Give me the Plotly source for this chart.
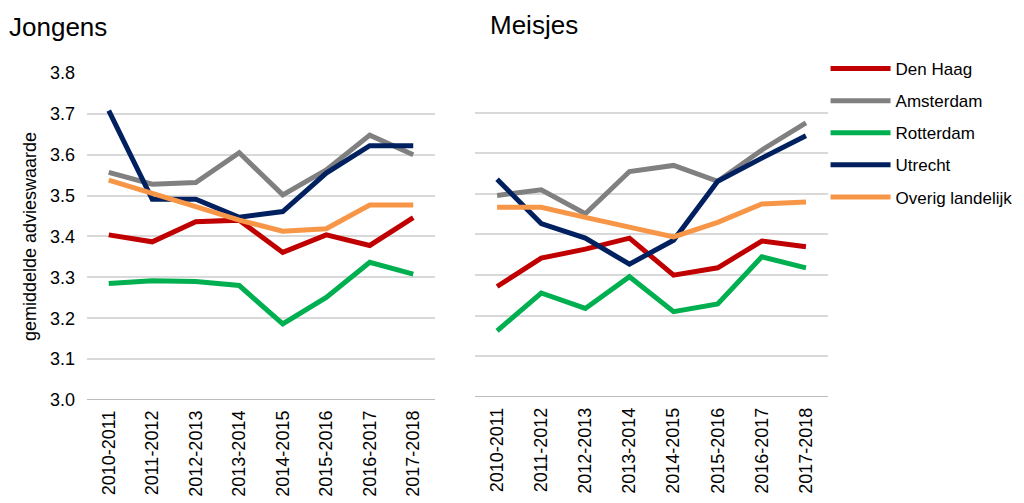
import plotly.graph_objects as go

# schooljaren
jaren = ['2010-2011', '2011-2012', '2012-2013', '2013-2014',
         '2014-2015', '2015-2016', '2016-2017', '2017-2018']

steden = ['Den Haag', 'Amsterdam', 'Rotterdam', 'Utrecht', 'Overig landelijk']
kleuren = ['#C00000', '#808080', '#00B050', '#002060', '#F79646']

# gemiddelde advieswaarde jongens
jongens_den_haag = [3.404, 3.387, 3.436, 3.440, 3.361, 3.404, 3.378, 3.446]
jongens_amsterdam = [3.557, 3.528, 3.532, 3.605, 3.502, 3.563, 3.648, 3.600]
jongens_rotterdam = [3.285, 3.292, 3.290, 3.280, 3.186, 3.251, 3.337, 3.308]
jongens_utrecht = [3.708, 3.491, 3.491, 3.447, 3.461, 3.555, 3.622, 3.622]
jongens_overig = [3.538, 3.507, 3.473, 3.440, 3.413, 3.419, 3.477, 3.477]

# gemiddelde advieswaarde meisjes
meisjes_den_haag = [3.272, 3.342, 3.364, 3.391, 3.300, 3.318, 3.384, 3.370]
meisjes_amsterdam = [3.496, 3.510, 3.451, 3.555, 3.570, 3.531, 3.608, 3.675]
meisjes_rotterdam = [3.163, 3.256, 3.218, 3.296, 3.210, 3.229, 3.345, 3.318]
meisjes_utrecht = [3.536, 3.427, 3.391, 3.327, 3.386, 3.531, 3.588, 3.643]
meisjes_overig = [3.467, 3.467, 3.442, 3.419, 3.394, 3.430, 3.475, 3.480]

y_ticks = [3.0, 3.1, 3.2, 3.3, 3.4, 3.5, 3.6, 3.7, 3.8]

FONT = 'Liberation Sans, Arial, sans-serif'

jongens = [jongens_den_haag, jongens_amsterdam, jongens_rotterdam, jongens_utrecht, jongens_overig]
meisjes = [meisjes_den_haag, meisjes_amsterdam, meisjes_rotterdam, meisjes_utrecht, meisjes_overig]

fig = go.Figure()

for naam, kleur, waarden in zip(steden, kleuren, jongens):
    fig.add_trace(go.Scatter(x=jaren, y=waarden, mode='lines', name=naam,
                             line=dict(color=kleur, width=5),
                             xaxis='x', yaxis='y', showlegend=False))

# alleen de meisjes-lijnen in de legenda
for naam, kleur, waarden in zip(steden, kleuren, meisjes):
    fig.add_trace(go.Scatter(x=jaren, y=waarden, mode='lines', name=naam,
                             line=dict(color=kleur, width=5),
                             xaxis='x2', yaxis='y2', legendgroup=naam))

x_common = dict(type='category', range=[-0.5, 7.5], tickangle=-90, showgrid=False,
                ticks='', showline=False, zeroline=False, automargin=False,
                ticklabelstandoff=6,
                tickfont=dict(family=FONT, size=18, color='#000000'))
y_common = dict(range=[3.0, 3.8], tickvals=y_ticks, showgrid=True,
                gridcolor='#D9D9D9', gridwidth=1.5, zeroline=False,
                showline=False, ticks='', automargin=False)

fig.update_layout(
    width=1024, height=503,
    margin=dict(l=0, r=0, t=0, b=0),
    paper_bgcolor='white', plot_bgcolor='white',
    font=dict(family=FONT, color='#000000'),
    xaxis=dict(domain=[0.08496, 0.4248], anchor='y', **x_common),
    xaxis2=dict(domain=[0.4639, 0.8086], anchor='y2', **x_common),
    yaxis=dict(domain=[0.2048, 0.8549], anchor='x', tickformat='.1f',
               ticklabelstandoff=11,
               tickfont=dict(family=FONT, size=18, color='#000000'),
               title=dict(text='gemiddelde advieswaarde', standoff=8,
                          font=dict(family=FONT, size=18, color='#000000')),
               **y_common),
    yaxis2=dict(domain=[0.2107, 0.8569], anchor='x2', showticklabels=False, **y_common),
    legend=dict(x=0.8062, y=0.8986, xanchor='left', yanchor='top',
                font=dict(family=FONT, size=17, color='#000000'),
                itemwidth=60, tracegroupgap=7, bgcolor='rgba(0,0,0,0)'),
    shapes=[
        dict(type='line', xref='x domain', yref='y', x0=0, x1=1, y0=3.0, y1=3.0,
             line=dict(color='#A6A6A6', width=1.5)),
        dict(type='line', xref='x2 domain', yref='y2', x0=0, x1=1, y0=3.0, y1=3.0,
             line=dict(color='#A6A6A6', width=1.5)),
    ],
    annotations=[
        dict(text='Jongens', xref='paper', yref='paper', x=7 / 1024, y=1 - 27 / 503,
             xanchor='left', yanchor='middle', showarrow=False,
             font=dict(family=FONT, size=26, color='#000000')),
        dict(text='Meisjes', xref='paper', yref='paper', x=488 / 1024, y=1 - 25 / 503,
             xanchor='left', yanchor='middle', showarrow=False,
             font=dict(family=FONT, size=26, color='#000000')),
    ],
)

# standaard body-marge van de pagina weghalen
fig.write_html("out.html", config={'displayModeBar': False},
               post_script="document.body.style.margin='0';")
